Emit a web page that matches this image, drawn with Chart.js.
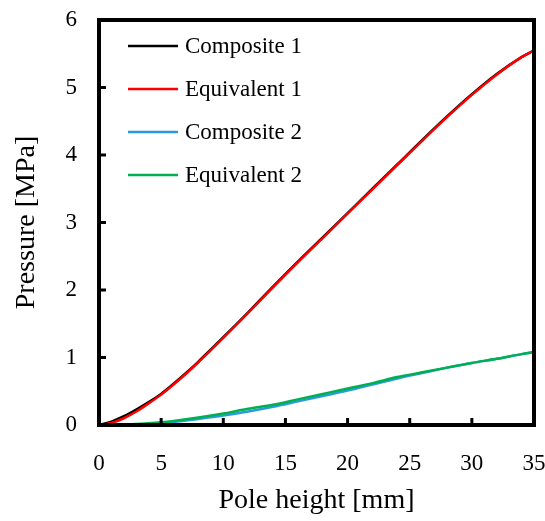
<!DOCTYPE html>
<html>
<head>
<meta charset="utf-8">
<script src="https://cdn.jsdelivr.net/npm/chart.js@4"></script>
<style>
  html, body { margin: 0; padding: 0; background: #fff; }
  canvas { display: block; }
</style>
</head>
<body>
<canvas id="chart" width="545" height="521"></canvas>
<script>
// pole height [mm]
const heights1 = [0, 1, 2, 3, 4, 5, 6, 7, 8, 9, 10, 12, 14, 16, 18, 20, 22, 24, 26, 28, 30, 32, 34, 35];
const composite1 = [0, 0.05, 0.13, 0.23, 0.34, 0.46, 0.61, 0.77, 0.94, 1.12, 1.30, 1.67, 2.05, 2.42, 2.78, 3.14, 3.50, 3.86, 4.22, 4.57, 4.90, 5.20, 5.45, 5.55];
const equivalent1 = [0, 0.03, 0.10, 0.20, 0.32, 0.45, 0.60, 0.76, 0.93, 1.11, 1.29, 1.66, 2.04, 2.41, 2.77, 3.13, 3.49, 3.85, 4.21, 4.56, 4.89, 5.19, 5.45, 5.55];

const heights2 = [0, 2, 4, 5, 6, 8, 10, 12, 14, 16, 18, 20, 22, 24, 26, 28, 30, 32, 34, 35];
const composite2 = [0, 0.003, 0.015, 0.03, 0.045, 0.09, 0.14, 0.20, 0.27, 0.35, 0.43, 0.51, 0.60, 0.69, 0.77, 0.85, 0.92, 0.98, 1.05, 1.08];
const equivalent2 = [0, 0.005, 0.025, 0.04, 0.06, 0.11, 0.17, 0.24, 0.30, 0.38, 0.46, 0.54, 0.62, 0.71, 0.78, 0.85, 0.92, 0.98, 1.05, 1.08];

const xTicks = [0, 5, 10, 15, 20, 25, 30, 35];
const yTicks = [0, 1, 2, 3, 4, 5, 6];

const FONT = "'Liberation Serif', 'Times New Roman', serif";

const pts = (xs, ys) => xs.map((x, i) => ({ x: x, y: ys[i] }));

// inward ticks, heavy frame and the in-plot legend
const framePlugin = {
    id: 'frame',
    afterDatasetsDraw(chart) {
        const ctx = chart.ctx;
        const a = chart.chartArea;
        const xs = chart.scales.x, ys = chart.scales.y;
        ctx.save();
        ctx.strokeStyle = '#000';
        ctx.lineWidth = 3;
        xTicks.forEach(v => {
            const px = xs.getPixelForValue(v);
            ctx.beginPath();
            ctx.moveTo(px, a.bottom);
            ctx.lineTo(px, a.bottom - 7);
            ctx.stroke();
        });
        yTicks.forEach(v => {
            const py = ys.getPixelForValue(v);
            ctx.beginPath();
            ctx.moveTo(a.left, py);
            ctx.lineTo(a.left + 7, py);
            ctx.stroke();
        });
        ctx.lineWidth = 4;
        ctx.strokeRect(a.left, a.top, a.right - a.left, a.bottom - a.top);

        // legend
        ctx.font = '23px ' + FONT;
        ctx.textBaseline = 'middle';
        ctx.fillStyle = '#000';
        chart.data.datasets.forEach((ds, i) => {
            const y = a.top + 26 + i * 43;
            ctx.strokeStyle = ds.borderColor;
            ctx.lineWidth = 2.5;
            ctx.beginPath();
            ctx.moveTo(a.left + 29, y);
            ctx.lineTo(a.left + 79, y);
            ctx.stroke();
            ctx.fillText(ds.label, a.left + 86, y + 1);
        });
        ctx.restore();
    }
};

new Chart(document.getElementById('chart').getContext('2d'), {
    type: 'line',
    data: {
        datasets: [
            { label: 'Composite 1', data: pts(heights1, composite1), borderColor: '#000000', order: 4 },
            { label: 'Equivalent 1', data: pts(heights1, equivalent1), borderColor: '#ff0000', order: 3 },
            { label: 'Composite 2', data: pts(heights2, composite2), borderColor: '#2a9ae0', order: 2 },
            { label: 'Equivalent 2', data: pts(heights2, equivalent2), borderColor: '#00b050', order: 1 }
        ]
    },
    options: {
        responsive: false,
        animation: false,
        layout: { padding: { top: 20, right: 11 } },
        elements: {
            point: { radius: 0 },
            line: { borderWidth: 2.5, cubicInterpolationMode: 'monotone', fill: false }
        },
        plugins: {
            legend: { display: false },
            tooltip: { enabled: false }
        },
        scales: {
            x: {
                type: 'linear',
                min: 0, max: 35,
                afterBuildTicks: s => { s.ticks = xTicks.map(v => ({ value: v })); },
                afterFit: s => { s.height = 96; s.paddingLeft = 0; s.paddingRight = 0; },
                grid: { display: false, drawTicks: false },
                border: { display: false },
                ticks: { color: '#000', font: { family: FONT, size: 23 }, padding: 25 },
                title: { display: true, text: 'Pole height [mm]', color: '#000', font: { family: FONT, size: 28 }, padding: { top: 8 } }
            },
            y: {
                min: 0, max: 6,
                afterBuildTicks: s => { s.ticks = yTicks.map(v => ({ value: v })); },
                afterFit: s => { s.width = 99; s.paddingTop = 0; s.paddingBottom = 0; },
                grid: { display: false, drawTicks: false },
                border: { display: false },
                ticks: { color: '#000', font: { family: FONT, size: 23 }, padding: 22 },
                title: { display: true, text: 'Pressure [MPa]', color: '#000', font: { family: FONT, size: 28 }, padding: { top: 10, bottom: 10 } }
            }
        }
    },
    plugins: [framePlugin]
});
</script>
</body>
</html>
